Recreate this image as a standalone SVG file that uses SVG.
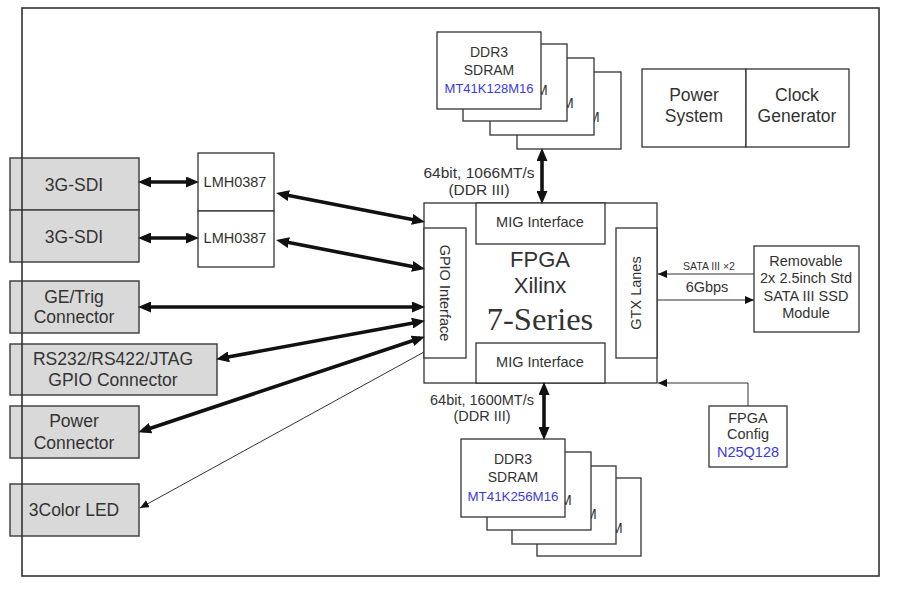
<svg xmlns="http://www.w3.org/2000/svg" width="900" height="592" viewBox="0 0 900 592">
<defs>
<style>
.t{font-family:"Liberation Sans",Arial,sans-serif;fill:#333;text-anchor:middle}
.m{font-family:"Liberation Sans",Arial,sans-serif;fill:#333;text-anchor:start;font-size:14px}
.s{font-family:"Liberation Serif","Times New Roman",serif;fill:#333;text-anchor:middle}
.b{fill:#3a3ae0}
.box{fill:#fff;stroke:#333;stroke-width:1.3}
.gbox{fill:#d9d9d9;stroke:#444;stroke-width:1.5}
.thick{stroke:#111;stroke-width:3.6;fill:none;marker-start:url(#ah);marker-end:url(#ah)}
.thin{stroke:#333;stroke-width:1;fill:none;marker-end:url(#sh)}
</style>
<marker id="ah" markerUnits="userSpaceOnUse" markerWidth="13" markerHeight="11" refX="8" refY="5.5" orient="auto-start-reverse" viewBox="0 0 13 11">
<path d="M0,0 L13,5.5 L0,11 z" fill="#111"/>
</marker>
<marker id="sh" markerUnits="userSpaceOnUse" markerWidth="9" markerHeight="8" refX="9" refY="4" orient="auto" viewBox="0 0 9 8">
<path d="M0,0 L9,4 L0,8 z" fill="#111"/>
</marker>
</defs>
<rect width="900" height="592" fill="#fff"/>

<g id="ddr3-top">
<rect class="box" x="517" y="72" width="104" height="77"/>
<text class="m" x="588" y="122">M</text>
<rect class="box" x="490" y="58" width="104" height="77"/>
<text class="m" x="562" y="108">M</text>
<rect class="box" x="463" y="44" width="104" height="77"/>
<text class="m" x="536" y="95">M</text>
<rect class="box" x="437" y="32" width="104" height="77"/>
<text class="t" x="489" y="57" font-size="14">DDR3</text>
<text class="t" x="489" y="75" font-size="14">SDRAM</text>
<text class="t b" x="489" y="93" font-size="13">MT41K128M16</text>
</g>

<g id="ddr3-bottom">
<rect class="box" x="537" y="478" width="104" height="78"/>
<text class="m" x="611" y="533">M</text>
<rect class="box" x="512" y="466" width="104" height="78"/>
<text class="m" x="585" y="519">M</text>
<rect class="box" x="487" y="452" width="104" height="78"/>
<text class="m" x="560" y="505">M</text>
<rect class="box" x="461" y="439" width="104" height="78"/>
<text class="t" x="513" y="464" font-size="14">DDR3</text>
<text class="t" x="513" y="482" font-size="14">SDRAM</text>
<text class="t b" x="513" y="501" font-size="13.3">MT41K256M16</text>
</g>

<g id="power-system">
<rect class="box" x="642" y="69" width="104" height="78"/>
<text class="t" x="694" y="101" font-size="17.5">Power</text>
<text class="t" x="694" y="122" font-size="17.5">System</text>
</g>
<g id="clock-generator">
<rect class="box" x="746" y="69" width="103" height="78"/>
<text class="t" x="797" y="101" font-size="17.5">Clock</text>
<text class="t" x="797" y="122" font-size="17.5">Generator</text>
</g>

<g id="fpga">
<rect class="box" x="424" y="203" width="233" height="180"/>
<text class="t" x="540" y="267" font-size="22">FPGA</text>
<text class="t" x="540" y="293" font-size="22">Xilinx</text>
<text class="s" x="540" y="330" font-size="32.5">7-Series</text>
</g>
<g id="mig-top">
<rect class="box" x="476" y="203" width="129" height="41"/>
<text class="t" x="540" y="227" font-size="14.5">MIG Interface</text>
</g>
<g id="mig-bottom">
<rect class="box" x="476" y="343" width="129" height="40"/>
<text class="t" x="540" y="367" font-size="14.5">MIG Interface</text>
</g>
<g id="gpio-interface">
<rect class="box" x="424" y="228" width="42" height="130"/>
<text class="t" font-size="14.5" transform="translate(445,293) rotate(90)" x="0" y="5">GPIO Interface</text>
</g>
<g id="gtx-lanes">
<rect class="box" x="616" y="228" width="41" height="130"/>
<text class="t" font-size="14.5" transform="translate(636,293) rotate(-90)" x="0" y="5">GTX Lanes</text>
</g>

<g id="ssd">
<rect class="box" x="754" y="246" width="105" height="86"/>
<text class="t" x="806" y="266" font-size="14.5">Removable</text>
<text class="t" x="806" y="283" font-size="14.5">2x 2.5inch Std</text>
<text class="t" x="806" y="301" font-size="14.5">SATA III SSD</text>
<text class="t" x="806" y="318" font-size="14.5">Module</text>
</g>

<g id="fpga-config">
<rect class="box" x="709" y="406" width="78" height="61"/>
<text class="t" x="748" y="423" font-size="14.5">FPGA</text>
<text class="t" x="748" y="439" font-size="14.5">Config</text>
<text class="t b" x="748" y="457" font-size="14.5">N25Q128</text>
</g>

<g id="lmh0387-1">
<rect class="box" x="198" y="153" width="76" height="58"/>
<text class="t" x="235" y="187" font-size="14.5">LMH0387</text>
</g>
<g id="lmh0387-2">
<rect class="box" x="198" y="211" width="76" height="56"/>
<text class="t" x="235" y="243" font-size="14.5">LMH0387</text>
</g>

<g id="sdi-1">
<rect class="gbox" x="10" y="158" width="129" height="52"/>
<text class="t" x="74" y="191" font-size="17.5">3G-SDI</text>
</g>
<g id="sdi-2">
<rect class="gbox" x="10" y="210" width="129" height="52"/>
<text class="t" x="74" y="243" font-size="17.5">3G-SDI</text>
</g>
<g id="ge-trig">
<rect class="gbox" x="10" y="281" width="129" height="52"/>
<text class="t" x="74" y="303" font-size="17.5">GE/Trig</text>
<text class="t" x="74" y="323" font-size="17.5">Connector</text>
</g>
<g id="rs232">
<rect class="gbox" x="10" y="344" width="207" height="51"/>
<text class="t" x="113" y="365" font-size="17.5">RS232/RS422/JTAG</text>
<text class="t" x="113" y="386" font-size="17.5">GPIO Connector</text>
</g>
<g id="power-connector">
<rect class="gbox" x="10" y="406" width="129" height="52"/>
<text class="t" x="74" y="427" font-size="17.5">Power</text>
<text class="t" x="74" y="449" font-size="17.5">Connector</text>
</g>
<g id="led">
<rect class="gbox" x="10" y="484" width="129" height="52"/>
<text class="t" x="74" y="516" font-size="17.5">3Color LED</text>
</g>

<g id="connectors">
<line class="thick" x1="143" y1="182" x2="194" y2="182"/>
<line class="thick" x1="143" y1="238" x2="194" y2="238"/>
<line class="thick" x1="281" y1="194" x2="420" y2="221"/>
<line class="thick" x1="281" y1="241" x2="420" y2="268"/>
<line class="thick" x1="143" y1="307" x2="420" y2="307"/>
<line class="thick" x1="221" y1="358.3" x2="420" y2="321.7"/>
<line class="thick" x1="143" y1="430.7" x2="420" y2="338.3"/>
<line class="thick" x1="542" y1="153" x2="542" y2="199"/>
<line class="thick" x1="544" y1="387" x2="544" y2="435"/>
<line class="thin" x1="754" y1="274" x2="658" y2="274"/>
<line class="thin" x1="657" y1="300" x2="754" y2="300"/>
<polyline class="thin" points="748,406 748,383 658,383"/>
<line class="thin" x1="424" y1="352" x2="140" y2="508" stroke-width="0.9"/>
<text class="t" x="709" y="270" font-size="10.5">SATA III ×2</text>
<text class="t" x="707" y="292" font-size="14.5">6Gbps</text>
<text class="t" x="479" y="178" font-size="15.5">64bit, 1066MT/s</text>
<text class="t" x="479" y="195" font-size="15.5">(DDR III)</text>
<text class="t" x="482" y="405" font-size="14.5">64bit, 1600MT/s</text>
<text class="t" x="482" y="421" font-size="14.5">(DDR III)</text>
</g>

<rect id="border" x="22" y="8" width="857" height="568" fill="none" stroke="#333" stroke-width="1.6"/>
</svg>
